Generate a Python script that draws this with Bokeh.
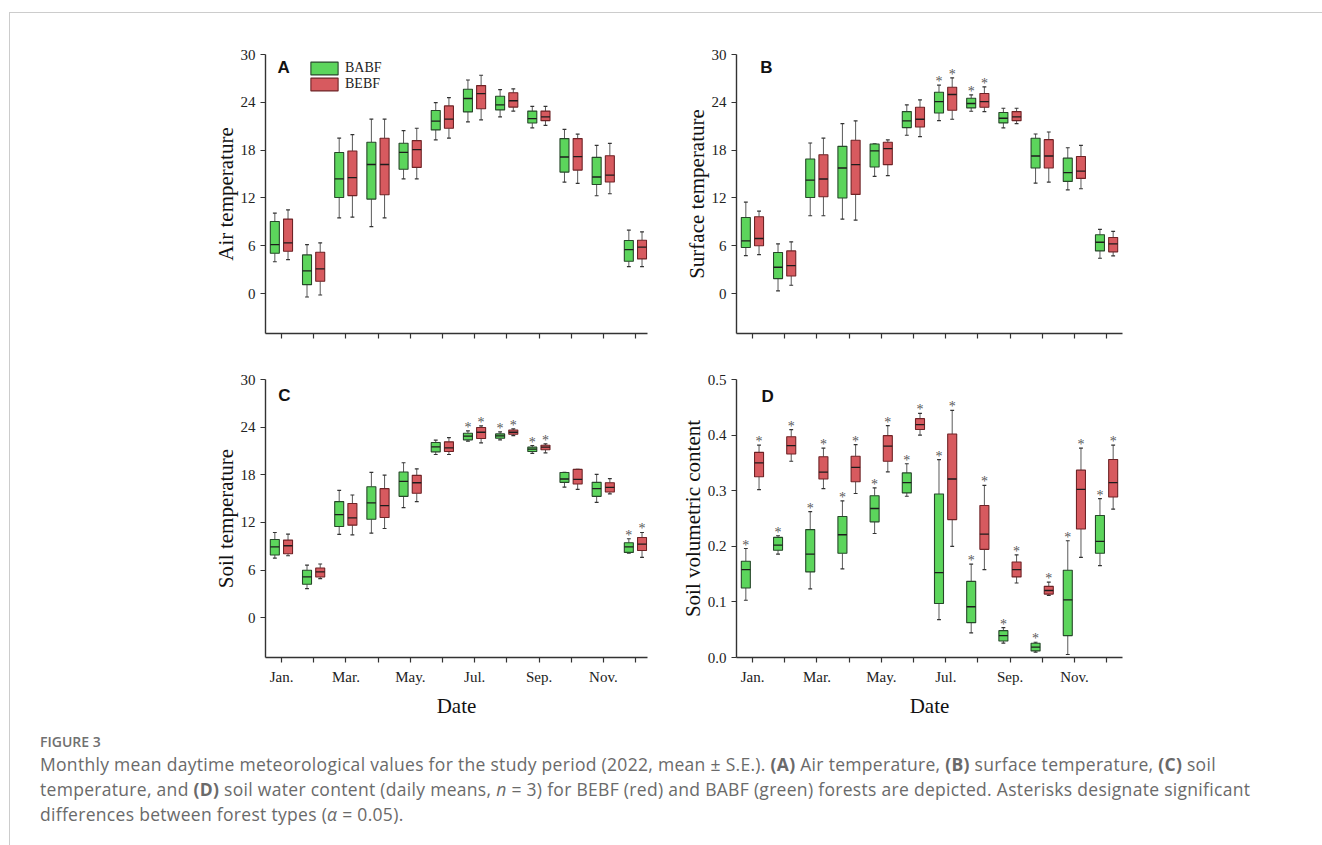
from bokeh.plotting import figure
from bokeh.models import (Range1d, FixedTicker, Label, Legend, LegendItem, Div, Spacer,
                          NumeralTickFormatter, ColumnDataSource)
from bokeh.layouts import row, column
from bokeh.embed import file_html
from bokeh.resources import INLINE
from bokeh.core.properties import value

# ---------------- data ----------------
months = list(range(1, 13))
month_tick_labels = {1: "Jan.", 3: "Mar.", 5: "May.", 7: "Jul.", 9: "Sep.", 11: "Nov."}
series_names = ["BABF", "BEBF"]

# each entry: (lower whisker, Q1, median, Q3, upper whisker)
air_babf = [(4.0, 5.07, 6.16, 9.05, 10.1), (-0.42, 1.13, 2.85, 4.86, 6.16), (9.5, 12.07, 14.4, 17.7, 19.5),
            (8.4, 11.86, 16.2, 19.0, 21.9), (14.4, 15.6, 17.73, 18.86, 20.45), (19.28, 20.54, 21.63, 22.97, 23.97),
            (21.54, 22.8, 24.48, 25.65, 26.8), (22.17, 23.05, 23.68, 24.77, 25.6), (20.8, 21.4, 21.96, 22.9, 23.5),
            (14.0, 15.25, 17.14, 19.45, 20.6), (12.28, 13.7, 14.63, 17.1, 18.6), (3.4, 4.07, 5.53, 6.66, 7.96)]
air_bebf = [(4.27, 5.32, 6.37, 9.35, 10.5), (-0.17, 1.55, 3.1, 5.2, 6.37), (9.6, 12.3, 14.55, 17.9, 19.95),
            (9.5, 12.4, 16.2, 19.5, 21.9), (14.4, 15.84, 18.06, 19.2, 20.75), (19.5, 20.75, 21.9, 23.55, 24.6),
            (21.8, 23.2, 25.1, 26.1, 27.4), (22.9, 23.4, 24.2, 25.2, 25.7), (21.1, 21.7, 22.17, 22.9, 23.5),
            (13.83, 15.5, 17.2, 19.45, 20.0), (12.53, 14.0, 14.88, 17.3, 18.86), (3.4, 4.36, 5.83, 6.7, 7.75)]
air_babf_sig = [0, 0, 0, 0, 0, 0, 0, 0, 0, 0, 0, 0]
air_bebf_sig = [0, 0, 0, 0, 0, 0, 0, 0, 0, 0, 0, 0]

surf_babf = [(4.78, 5.78, 6.62, 9.56, 11.48), (0.34, 1.89, 3.31, 5.16, 6.24), (9.77, 12.07, 14.25, 16.9, 18.9),
             (9.35, 11.99, 15.76, 18.48, 21.33), (14.7, 15.88, 17.9, 18.78, 18.78), (19.87, 20.83, 21.67, 22.84, 23.68),
             (21.7, 22.67, 24.1, 25.27, 26.15), (22.88, 23.3, 23.85, 24.52, 24.94), (20.79, 21.42, 22.0, 22.72, 23.26),
             (13.87, 15.76, 17.27, 19.49, 20.03), (13.03, 14.08, 15.17, 17.0, 18.3), (4.44, 5.36, 6.45, 7.38, 8.05)]
surf_bebf = [(4.9, 6.0, 6.92, 9.64, 10.35), (1.05, 2.22, 3.52, 5.36, 6.5), (9.77, 12.15, 14.38, 17.43, 19.5),
             (9.22, 12.45, 16.18, 19.24, 21.67), (14.8, 16.18, 18.19, 18.99, 19.28), (19.7, 20.91, 21.88, 23.39, 24.3),
             (21.88, 23.0, 24.98, 25.9, 27.07), (22.84, 23.39, 24.1, 25.1, 25.94), (21.33, 21.7, 22.17, 22.84, 23.26),
             (14.0, 15.76, 17.27, 19.32, 20.28), (13.16, 14.46, 15.38, 17.2, 18.6), (4.74, 5.24, 6.24, 7.04, 7.8)]
surf_babf_sig = [0, 0, 0, 0, 0, 0, 1, 1, 0, 0, 0, 0]
surf_bebf_sig = [0, 0, 0, 0, 0, 0, 1, 1, 0, 0, 0, 0]

soil_babf = [(7.52, 7.9, 8.94, 9.86, 10.74), (3.68, 4.22, 5.14, 5.98, 6.64), (10.49, 11.49, 13.0, 14.63, 16.05),
             (10.66, 12.41, 14.46, 16.5, 18.3), (13.87, 15.29, 17.18, 18.35, 19.52), (20.56, 20.89, 21.52, 22.06, 22.36),
             (22.23, 22.4, 22.86, 23.23, 23.53), (22.4, 22.6, 22.9, 23.15, 23.4), (20.69, 20.94, 21.23, 21.48, 21.69),
             (16.46, 17.05, 17.47, 18.3, 18.3), (14.54, 15.29, 16.26, 17.05, 18.05), (8.15, 8.23, 8.94, 9.44, 9.95)]
soil_bebf = [(7.81, 8.07, 9.07, 9.78, 10.53), (4.93, 5.14, 5.77, 6.27, 6.77), (10.45, 11.66, 12.58, 14.38, 15.46),
             (11.24, 12.62, 14.12, 16.26, 17.97), (14.63, 15.67, 17.0, 17.93, 18.76), (20.56, 20.94, 21.4, 22.15, 22.69),
             (22.02, 22.57, 23.36, 23.95, 24.15), (22.94, 23.11, 23.36, 23.65, 23.78), (20.77, 21.15, 21.48, 21.73, 21.9),
             (16.17, 16.84, 17.43, 18.68, 18.68), (15.59, 15.84, 16.42, 17.01, 17.51), (7.61, 8.48, 9.28, 10.11, 10.74)]
soil_babf_sig = [0, 0, 0, 0, 0, 0, 1, 1, 1, 0, 0, 1]
soil_bebf_sig = [0, 0, 0, 0, 0, 0, 1, 1, 1, 0, 0, 1]

swc_babf = [(0.103, 0.125, 0.158, 0.173, 0.196), (0.186, 0.193, 0.202, 0.216, 0.219), (0.1235, 0.154, 0.186, 0.23, 0.2625),
            (0.1593, 0.1874, 0.2208, 0.2536, 0.2816), (0.223, 0.244, 0.268, 0.291, 0.305), (0.29, 0.296, 0.3145, 0.332, 0.3485),
            (0.068, 0.097, 0.1527, 0.294, 0.356), (0.0442, 0.0627, 0.0913, 0.137, 0.168), (0.0257, 0.0298, 0.0394, 0.0483, 0.0537),
            (0.0095, 0.0119, 0.0185, 0.0257, 0.0274), (0.0054, 0.0394, 0.1038, 0.157, 0.21), (0.1653, 0.1874, 0.2088, 0.2554, 0.2858)]
swc_bebf = [(0.302, 0.325, 0.35, 0.369, 0.382), (0.353, 0.366, 0.381, 0.397, 0.41), (0.3037, 0.321, 0.3335, 0.361, 0.3765),
            (0.295, 0.316, 0.342, 0.362, 0.383), (0.334, 0.353, 0.38, 0.399, 0.417), (0.4, 0.41, 0.4189, 0.4296, 0.439),
            (0.2, 0.248, 0.321, 0.402, 0.4445), (0.158, 0.1945, 0.222, 0.2733, 0.3097), (0.134, 0.145, 0.158, 0.1718, 0.1844),
            (0.1116, 0.114, 0.1205, 0.128, 0.1354), (0.18, 0.231, 0.3025, 0.337, 0.3765), (0.2667, 0.2888, 0.3145, 0.356, 0.382)]
swc_babf_sig = [1, 1, 1, 1, 1, 1, 1, 1, 1, 1, 1, 1]
swc_bebf_sig = [1, 1, 1, 1, 1, 1, 1, 1, 1, 1, 1, 1]

temp_ticks = [0, 6, 12, 18, 24, 30]
swc_ticks = [0.0, 0.1, 0.2, 0.3, 0.4, 0.5]

# ---------------- style ----------------
SERIF = "Liberation Serif"
GREEN_FILL, GREEN_LINE = "#5cd55c", "#27472a"
RED_FILL, RED_LINE = "#d75a5f", "#6e2326"
AXIS_COL = "#333333"
BOX_W = 0.28
OFFSETS = (-0.21, 0.20)


def draw_series(p, data, sig, offset, fill, line):
    src = ColumnDataSource(dict(
        x=[m + offset for m in months],
        lo=[d[0] for d in data], q1=[d[1] for d in data], med=[d[2] for d in data],
        q3=[d[3] for d in data], hi=[d[4] for d in data],
    ))
    src.data["xl"] = [x - BOX_W / 2 for x in src.data["x"]]
    src.data["xr"] = [x + BOX_W / 2 for x in src.data["x"]]
    src.data["cl"] = [x - 0.06 for x in src.data["x"]]
    src.data["cr"] = [x + 0.06 for x in src.data["x"]]
    p.segment(x0="x", x1="x", y0="q3", y1="hi", source=src, line_color="#5a5a5a", line_width=1)
    p.segment(x0="x", x1="x", y0="lo", y1="q1", source=src, line_color="#5a5a5a", line_width=1)
    p.segment(x0="cl", x1="cr", y0="hi", y1="hi", source=src, line_color="#333333", line_width=1.2)
    p.segment(x0="cl", x1="cr", y0="lo", y1="lo", source=src, line_color="#333333", line_width=1.2)
    r = p.vbar(x="x", width=BOX_W, bottom="q1", top="q3", source=src,
               fill_color=fill, line_color=line, line_width=1.1)
    p.segment(x0="xl", x1="xr", y0="med", y1="med", source=src, line_color="#1c1c1c", line_width=1.3)
    sx = [m + offset for m, s in zip(months, sig) if s]
    sy = [d[4] for d, s in zip(data, sig) if s]
    if sx:
        p.text(x=sx, y=sy, text=["*"] * len(sx), text_align="center", text_baseline="bottom",
               y_offset=4, text_font=value(SERIF), text_font_size="14px", text_color="#595959")
    return r


def make_panel(babf, bebf, babf_sig, bebf_sig, ylabel, letter, letter_xy, yrange, yticks, x_end,
               show_x, width, height, bl, br, bt, bb, legend=False, swc=False):
    p = figure(width=width, height=height, output_backend="svg", toolbar_location=None,
               x_range=Range1d(0.5, x_end), y_range=Range1d(*yrange),
               min_border_left=bl, min_border_right=br, min_border_top=bt, min_border_bottom=bb)
    p.outline_line_color = None
    p.grid.visible = False
    p.background_fill_color = "white"
    p.border_fill_color = "white"

    r1 = draw_series(p, babf, babf_sig, OFFSETS[0], GREEN_FILL, GREEN_LINE)
    r2 = draw_series(p, bebf, bebf_sig, OFFSETS[1], RED_FILL, RED_LINE)

    for ax in (p.xaxis[0], p.yaxis[0]):
        ax.axis_line_color = AXIS_COL
        ax.axis_line_width = 1.4
        ax.major_tick_line_color = AXIS_COL
        ax.major_tick_line_width = 1.2
        ax.major_tick_out = 5
        ax.major_tick_in = 0
        ax.minor_tick_line_color = None
        ax.major_label_text_font = SERIF
        ax.major_label_text_font_size = "15px"
        ax.major_label_text_color = "#222222"
        ax.axis_label_text_font = SERIF
        ax.axis_label_text_font_size = "21px"
        ax.axis_label_text_font_style = "normal"
        ax.axis_label_text_color = "#111111"

    p.xaxis.ticker = FixedTicker(ticks=months)
    p.xaxis.major_label_overrides = {m: (month_tick_labels.get(m, "") if show_x else "") for m in months}
    p.xaxis.major_label_standoff = 6
    if show_x:
        p.xaxis.axis_label = "Date"
        p.xaxis.axis_label_standoff = 6
    p.yaxis.ticker = FixedTicker(ticks=yticks)
    p.yaxis.major_label_standoff = 5
    p.yaxis.axis_label = ylabel
    p.yaxis.axis_label_standoff = 0
    if swc:
        p.yaxis.formatter = NumeralTickFormatter(format="0.0")

    p.add_layout(Label(x=letter_xy[0], y=letter_xy[1], text=letter, text_font="Liberation Sans",
                       text_font_style="bold", text_font_size="17px", text_align="center",
                       text_baseline="middle", text_color="#111111"))
    if legend:
        lg = Legend(items=[LegendItem(label=series_names[0], renderers=[r1]),
                           LegendItem(label=series_names[1], renderers=[r2])],
                    location=(42, 241), orientation="vertical")
        lg.glyph_width = 34
        lg.glyph_height = 16
        lg.label_height = 16
        lg.label_standoff = 4
        lg.spacing = 0
        lg.padding = 0
        lg.margin = 0
        lg.border_line_color = None
        lg.background_fill_alpha = 0
        lg.label_text_font = SERIF
        lg.label_text_font_size = "14px"
        lg.label_text_color = "#222222"
        lg.label_text_baseline = "middle"
        p.add_layout(lg)
    return p


pA = make_panel(air_babf, air_bebf, air_babf_sig, air_bebf_sig, "Air temperature", "A", (1.06, 28.4),
                (-5, 30), temp_ticks, 12.37, False, 647, 360, 255, 10, 41, 40, legend=True)
pB = make_panel(surf_babf, surf_bebf, surf_babf_sig, surf_bebf_sig, "Surface temperature", "B", (1.43, 28.4),
                (-5, 30), temp_ticks, 12.49, False, 475, 360, 79, 10, 41, 40)
pC = make_panel(soil_babf, soil_bebf, soil_babf_sig, soil_bebf_sig, "Soil temperature", "C", (1.09, 28.0),
                (-5, 30), temp_ticks, 12.37, True, 647, 347, 255, 10, 6, 62)
pD = make_panel(swc_babf, swc_bebf, swc_babf_sig, swc_bebf_sig, "Soil volumetric content", "D", (1.47, 0.47),
                (0, 0.5), swc_ticks, 12.49, True, 475, 347, 79, 10, 6, 62, swc=True)

frame_html = ('<div style="position:fixed;left:9px;top:12px;width:1500px;height:1000px;'
              'border-left:1px solid #cccccc;border-top:1px solid #cccccc;pointer-events:none;"></div>')
caption_html = (
    frame_html +
    '<div style="font-family:\'Open Sans\',sans-serif;color:#6a6a6a;white-space:nowrap;letter-spacing:0.3px;">'
    '<div style="margin-top:7px;font-size:14px;line-height:20px;font-weight:600;color:#707070;letter-spacing:0px;">FIGURE 3</div>'
    '<div style="font-size:17.5px;line-height:25px;">'
    'Monthly mean daytime meteorological values for the study period (2022, mean \u00b1 S.E.). '
    '<b>(A)</b> Air temperature, <b>(B)</b> surface temperature, <b>(C)</b> soil<br>'
    'temperature, and <b>(D)</b> soil water content (daily means, <i>n</i> = 3) for BEBF (red) and BABF (green) '
    'forests are depicted. Asterisks designate significant<br>'
    'differences between forest types (<i>\u03b1</i> = 0.05).'
    '</div></div>'
)
caption = Div(text=caption_html, width=1262, height=100)

content = column(row(pA, pB), row(pC, pD), row(Spacer(width=25, height=100), caption))
page = column(Spacer(height=13, width=10), row(Spacer(width=10, height=10), content))

open("out.html", "w").write(file_html(page, INLINE))
